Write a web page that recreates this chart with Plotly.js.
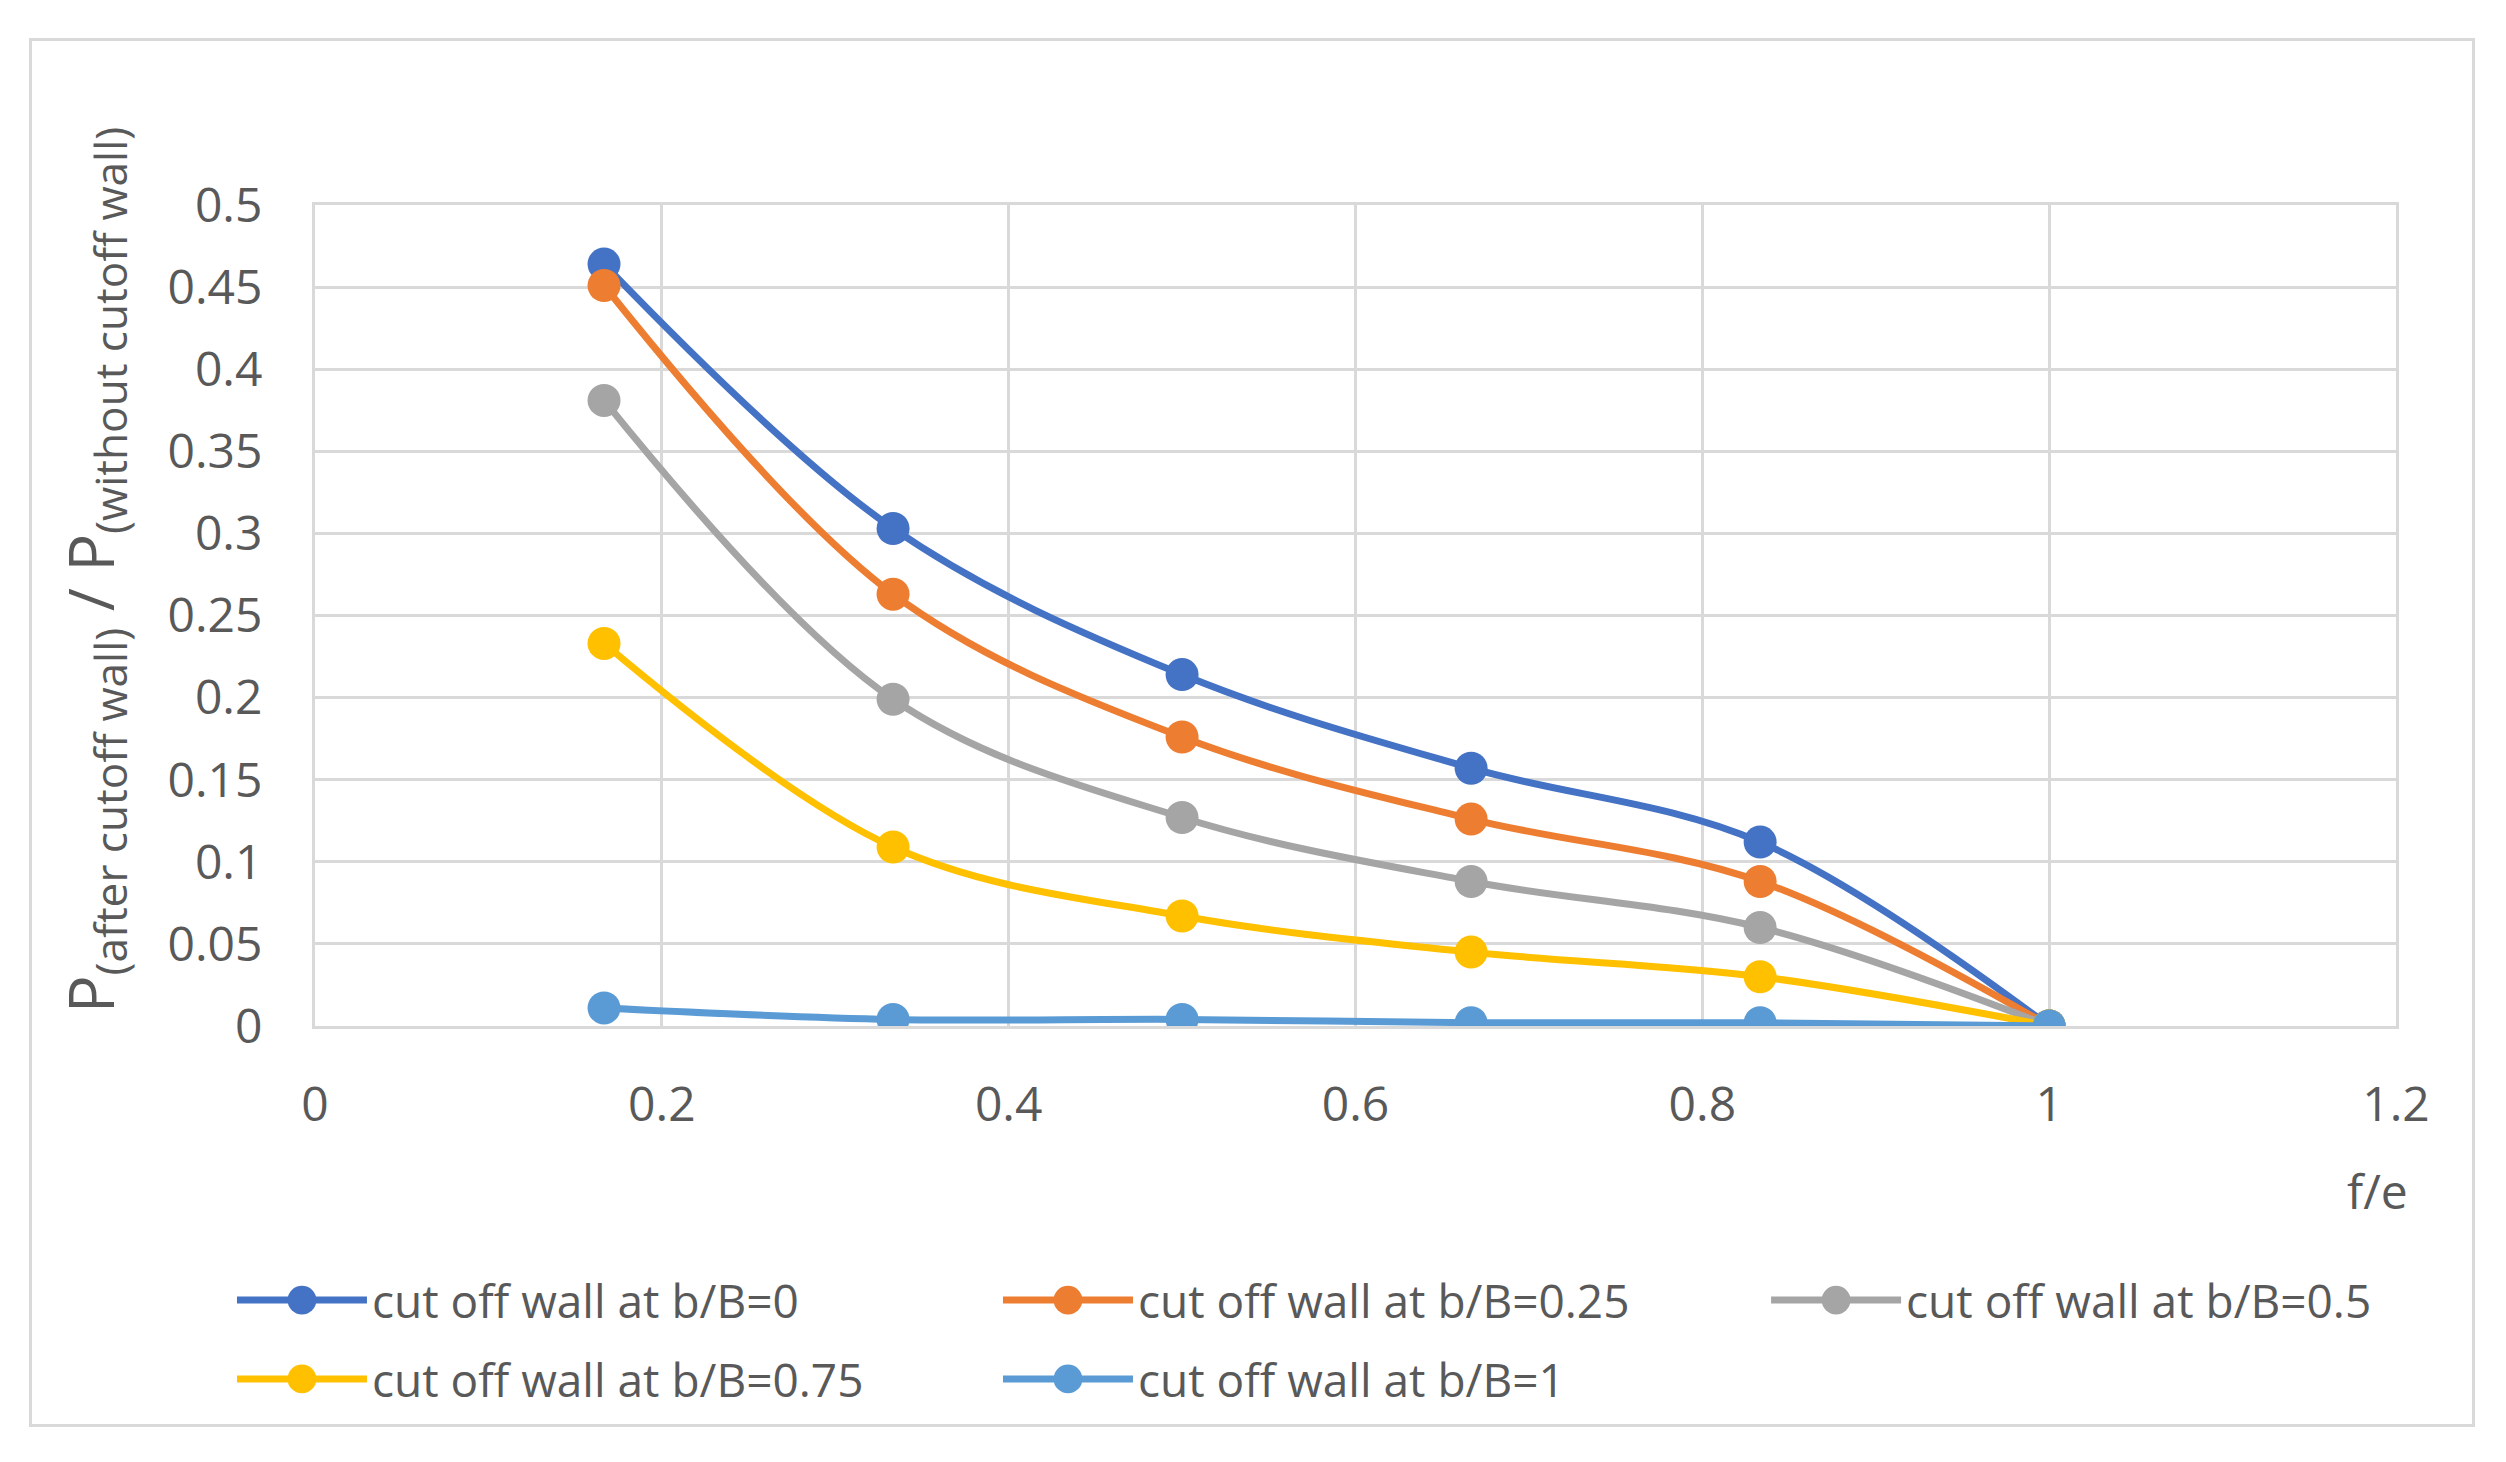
<!DOCTYPE html>
<html>
<head>
<meta charset="utf-8">
<script src="https://cdn.plot.ly/plotly-3.0.1.min.js"></script>
<style>
  html, body { margin: 0; padding: 0; background: #fff; }
  #chart {
    position: absolute; left: 29px; top: 38px;
    width: 2440px; height: 1383px;
    border: 3px solid #d9d9d9;
  }
</style>
</head>
<body>
<div id="chart"></div>
<script>
// f/e positions (sixths)
const fe = [1/6, 2/6, 3/6, 4/6, 5/6, 1];

// P(after cutoff wall) / P(without cutoff wall)
const wall0   = [0.464, 0.303, 0.214, 0.157, 0.112, 0];
const wall025 = [0.451, 0.263, 0.176, 0.126, 0.088, 0];
const wall05  = [0.381, 0.199, 0.127, 0.088, 0.060, 0];
const wall075 = [0.233, 0.109, 0.067, 0.045, 0.030, 0];
const wall1   = [0.011, 0.004, 0.004, 0.002, 0.002, 0];

const seriesNames = [
  'cut off wall at b/B=0',
  'cut off wall at b/B=0.25',
  'cut off wall at b/B=0.5',
  'cut off wall at b/B=0.75',
  'cut off wall at b/B=1'
];
const seriesValues = [wall0, wall025, wall05, wall075, wall1];
const colors = ['#4472C4', '#ED7D31', '#A5A5A5', '#FFC000', '#5B9BD5'];
// legend laid out as three columns (3 entries on row one, 2 on row two)
const legendCol = ['legend', 'legend2', 'legend3', 'legend', 'legend2'];

const xTicks = [0, 0.2, 0.4, 0.6, 0.8, 1, 1.2];
const yTicks = [0, 0.05, 0.1, 0.15, 0.2, 0.25, 0.3, 0.35, 0.4, 0.45, 0.5];

const textColor = '#595959', gridColor = '#d9d9d9';
const font = 'Open Sans, Segoe UI, sans-serif';

const traces = seriesValues.map((vals, i) => ({
  x: fe, y: vals, name: seriesNames[i],
  legend: legendCol[i], legendgroup: 'g' + i,
  type: 'scatter', mode: 'lines+markers',
  line: { color: colors[i], width: 7, shape: 'spline', smoothing: 1 },
  marker: { color: colors[i], size: 33 },
  hoverinfo: 'x+y+name'
}));

const legendBase = {
  orientation: 'v', xanchor: 'left', y: -0.2895, yanchor: 'top',
  itemwidth: 130, tracegroupgap: 16,
  font: { family: font, size: 46, color: textColor },
  bgcolor: 'rgba(0,0,0,0)'
};

const axisBase = {
  showgrid: true, gridcolor: gridColor, gridwidth: 3,
  showline: true, linecolor: gridColor, linewidth: 3, mirror: true,
  zeroline: false, ticks: '',
  tickfont: { family: font, size: 48, color: textColor },
  fixedrange: true
};

const layout = {
  width: 2440, height: 1383,
  margin: { l: 283, r: 76, t: 164, b: 398, autoexpand: false },
  paper_bgcolor: '#fff', plot_bgcolor: '#fff',
  font: { family: font, color: textColor, size: 48 },
  showlegend: true,
  xaxis: Object.assign({}, axisBase, {
    range: [0, 1.2], tickvals: xTicks, ticktext: xTicks.map(String),
    ticklabelstandoff: 34
  }),
  yaxis: Object.assign({}, axisBase, {
    range: [0, 0.5], tickvals: yTicks, ticktext: yTicks.map(String),
    ticklabelstandoff: 40
  }),
  annotations: [
    {
      text: 'P<sub>(after cutoff wall)</sub> / P<sub>(without cutoff wall)</sub>',
      xref: 'paper', yref: 'paper', x: 0, y: 0.555,
      xshift: -222, textangle: -90,
      xanchor: 'center', yanchor: 'middle', showarrow: false,
      font: { family: font, size: 63, color: textColor }
    },
    {
      text: 'f/e', xref: 'paper', yref: 'paper', x: 0.991, y: -0.2,
      xanchor: 'center', yanchor: 'middle', showarrow: false,
      font: { family: font, size: 48, color: textColor }
    }
  ],
  legend: Object.assign({}, legendBase, { x: -0.0399 }),
  legend2: Object.assign({}, legendBase, { x: 0.3282 }),
  legend3: Object.assign({}, legendBase, { x: 0.6973 })
};

Plotly.newPlot('chart', traces, layout, { displayModeBar: false, staticPlot: true })
  .then(gd => {
    // Plotly caps legend markers at 16px; enlarge them to match the plot markers
    gd.querySelectorAll('.legendpoints path.scatterpts').forEach(p => {
      const t = p.getAttribute('transform') || '';
      p.setAttribute('transform', t + ' scale(1.8)');
    });
  });
</script>
</body>
</html>
